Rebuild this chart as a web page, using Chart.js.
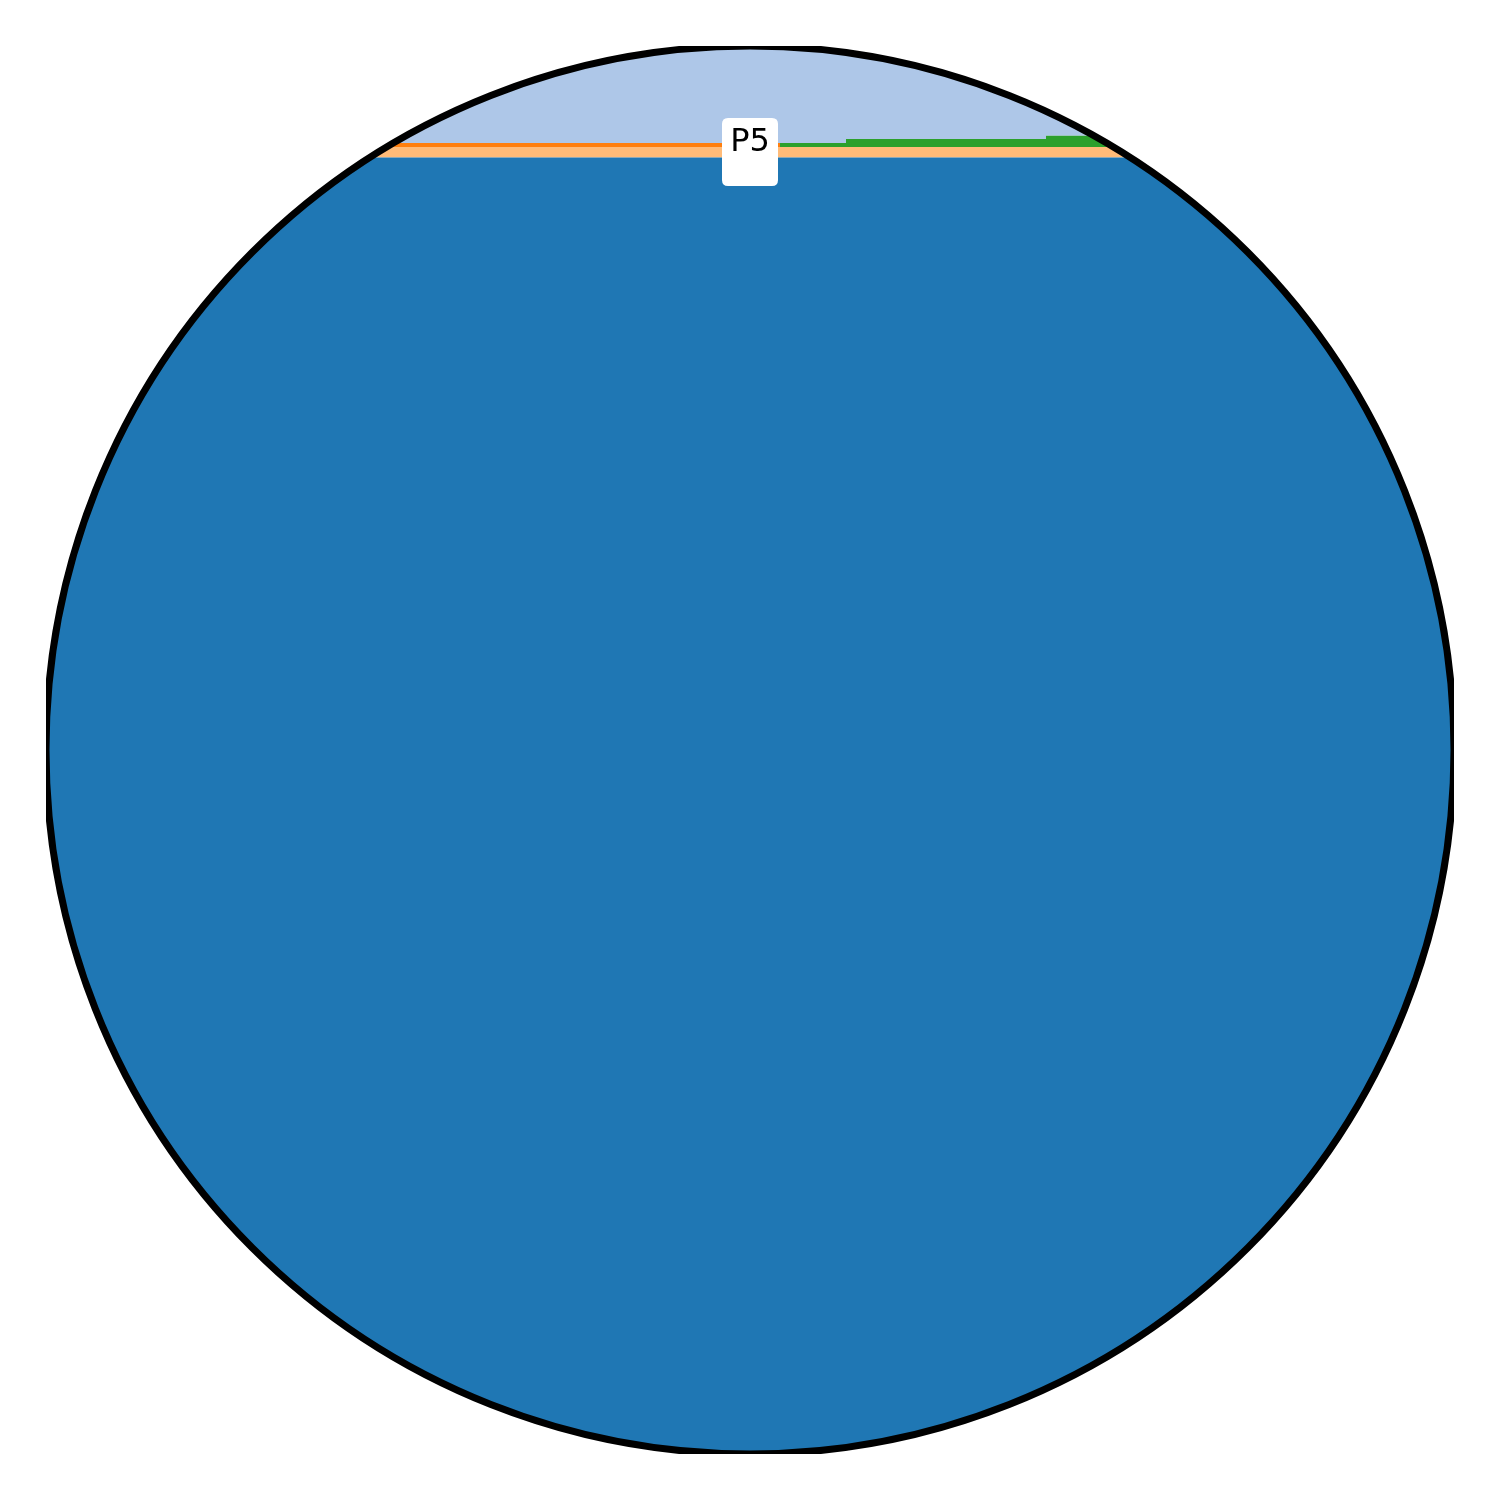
<!DOCTYPE html>
<html>
<head>
<meta charset="utf-8">
<script src="https://cdn.jsdelivr.net/npm/chart.js@4.4.1/dist/chart.umd.min.js"></script>
<style>
  html, body { margin: 0; padding: 0; background: #ffffff; }
  #wrap { width: 1500px; height: 1500px; position: relative; }
</style>
</head>
<body>
<div id="wrap"><canvas id="c"></canvas></div>
<script>
// ---- data ----
const xPositions   = [0, 7.34, 8, 10, 14.08];
const seriesNames  = ["S1", "S2", "S3", "S4", "S5"];
const s1Values     = [92.08, 92.08, 92.08, 92.08, 92.08];
const s2Values     = [0.75, 0.75, 0.75, 0.75, 0.75];
const s3Values     = [0.28, 0, 0, 0, 0];
const s4Values     = [0, 0.28, 0.56, 0.80, 0.80];
const s5Values     = [6.89, 6.89, 6.61, 6.37, 6.37];
const annotationLabel = "P5";
const xRange = [0, 14.08];
const yRange = [0, 100];

const colors = ["#1f77b4", "#ffbb78", "#ff7f0e", "#2ca02c", "#aec7e8"];
const allSeries = [s1Values, s2Values, s3Values, s4Values, s5Values];

const datasets = allSeries.map((vals, i) => ({
  label: seriesNames[i],
  data: vals.map((v, j) => ({ x: xPositions[j], y: v })),
  backgroundColor: colors[i],
  borderColor: colors[i],
  borderWidth: 0,
  pointRadius: 0,
  stepped: true,
  fill: i === 0 ? 'origin' : '-1',
  tension: 0
}));

const circlePlugin = {
  id: 'circleClip',
  beforeDatasetsDraw(chart) {
    const a = chart.chartArea;
    const ctx = chart.ctx;
    const cx = (a.left + a.right) / 2, cy = (a.top + a.bottom) / 2;
    const r = (a.right - a.left) / 2;
    ctx.save();
    ctx.beginPath();
    ctx.arc(cx, cy, r, 0, Math.PI * 2);
    ctx.clip();
  },
  afterDatasetsDraw(chart) {
    chart.ctx.restore();
  },
  afterDraw(chart) {
    const a = chart.chartArea;
    const ctx = chart.ctx;
    const cx = (a.left + a.right) / 2, cy = (a.top + a.bottom) / 2;
    const r = (a.right - a.left) / 2;
    // circular frame, clipped to the plot box
    ctx.save();
    ctx.beginPath();
    ctx.rect(a.left, a.top, a.right - a.left, a.bottom - a.top);
    ctx.clip();
    ctx.beginPath();
    ctx.arc(cx, cy, r, 0, Math.PI * 2);
    ctx.lineWidth = 7;
    ctx.strokeStyle = '#000000';
    ctx.stroke();
    ctx.restore();

    // annotation label with white rounded box
    ctx.save();
    const bx = cx - 28, by = a.top + 72, bw = 56, bh = 68, rr = 6;
    ctx.beginPath();
    ctx.moveTo(bx + rr, by);
    ctx.lineTo(bx + bw - rr, by);
    ctx.quadraticCurveTo(bx + bw, by, bx + bw, by + rr);
    ctx.lineTo(bx + bw, by + bh - rr);
    ctx.quadraticCurveTo(bx + bw, by + bh, bx + bw - rr, by + bh);
    ctx.lineTo(bx + rr, by + bh);
    ctx.quadraticCurveTo(bx, by + bh, bx, by + bh - rr);
    ctx.lineTo(bx, by + rr);
    ctx.quadraticCurveTo(bx, by, bx + rr, by);
    ctx.closePath();
    ctx.fillStyle = '#ffffff';
    ctx.fill();
    ctx.font = '32px "DejaVu Sans"';
    ctx.fillStyle = '#000000';
    ctx.textAlign = 'center';
    ctx.textBaseline = 'alphabetic';
    ctx.fillText(annotationLabel, cx, a.top + 104.5);
    ctx.restore();
  }
};

new Chart(document.getElementById('c'), {
  type: 'line',
  data: { datasets },
  options: {
    responsive: true,
    maintainAspectRatio: false,
    animation: false,
    layout: { padding: 46 },
    plugins: { legend: { display: false }, tooltip: { enabled: false } },
    elements: { line: { borderWidth: 0 } },
    scales: {
      x: { type: 'linear', min: xRange[0], max: xRange[1], display: false },
      y: { type: 'linear', min: yRange[0], max: yRange[1], stacked: true, display: false }
    }
  },
  plugins: [circlePlugin]
});
</script>
</body>
</html>
